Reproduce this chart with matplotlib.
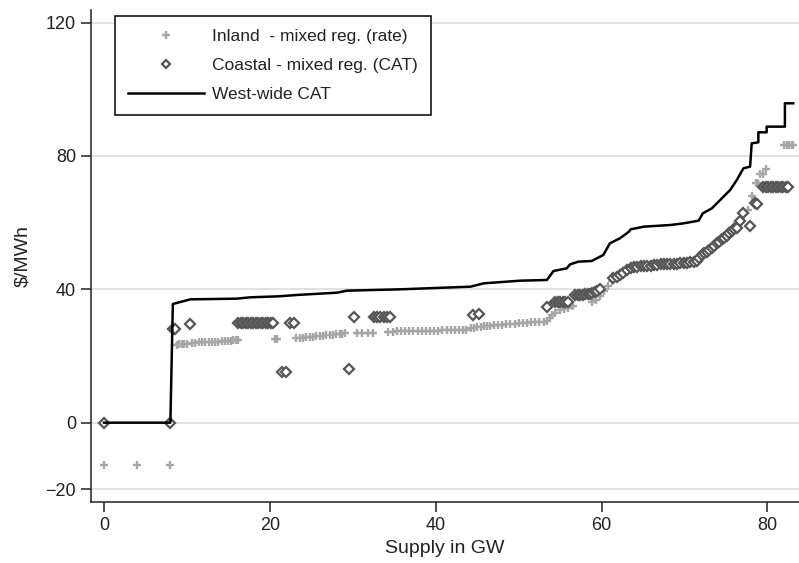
import matplotlib
matplotlib.use("Agg")
import matplotlib.pyplot as plt

plt.rcParams['font.family'] = ['Liberation Sans', 'DejaVu Sans']

# Inland - mixed reg. (rate): supply (GW), price ($/MWh)
inland_x = [0, 4, 8,
            8.8, 9.1, 9.4, 9.7, 10.0,
            10.6, 11.0, 11.4, 11.8, 12.2, 12.6, 13.0, 13.4, 13.8, 14.2, 14.6, 15.0, 15.3, 15.6, 15.9, 16.2,
            20.6, 20.9,
            23.2, 23.6, 24.0, 24.4, 24.8, 25.2, 25.6, 26.0, 26.4, 26.8, 27.2, 27.6, 28.0, 28.4, 28.7, 29.1,
            30.5, 31.1, 31.8, 32.4,
            34.3, 34.8, 35.3, 35.8, 36.3, 36.8, 37.3, 37.8, 38.3, 38.8, 39.3, 39.8, 40.3, 40.8, 41.3, 41.8,
            42.3, 42.8, 43.3, 43.7,
            44.2, 44.6, 45.0, 45.4, 45.8, 46.2, 46.6, 47.0, 47.5, 48.0, 48.5, 49.0, 49.5, 50.0, 50.5, 51.0,
            51.5, 52.0, 52.5, 53.0, 53.4, 53.8,
            54.0, 54.4, 55.0, 55.5, 56.0, 56.6, 58.9, 59.3, 59.8, 60.3, 60.8, 61.2,
            62.0, 63.0, 64.0, 65.0, 66.0, 67.0, 68.0, 69.0, 70.0, 71.0, 72.0, 73.0, 74.0,
            75.3, 75.8, 76.3, 76.8, 77.2, 77.6, 78.1, 78.6, 78.8, 79.1, 79.4, 79.8,
            82.0, 82.3, 82.6, 82.9, 83.1]
inland_y = [-12.7, -12.7, -12.7,
            23.4, 23.5, 23.6, 23.6, 23.7,
            24.0, 24.0, 24.1, 24.1, 24.2, 24.2, 24.3, 24.3, 24.3, 24.4, 24.5, 24.5, 24.6, 24.7, 24.8, 24.9,
            25.0, 25.1,
            25.3, 25.4, 25.5, 25.6, 25.7, 25.8, 25.9, 26.0, 26.1, 26.2, 26.3, 26.4, 26.5, 26.6, 26.7, 26.8,
            27.0, 27.0, 27.0, 27.0,
            27.3, 27.3, 27.4, 27.4, 27.4, 27.5, 27.5, 27.5, 27.5, 27.6, 27.6, 27.6, 27.6, 27.7, 27.7, 27.7,
            27.7, 27.8, 27.8, 27.9,
            28.3, 28.5, 28.6, 28.8, 28.9, 29.0, 29.1, 29.2, 29.3, 29.4, 29.5, 29.6, 29.7, 29.8, 29.9, 30.0,
            30.1, 30.2, 30.3, 30.3, 30.4, 31.4,
            32.3, 32.8, 33.8, 34.0, 34.3, 35.0, 36.2, 36.8, 38.0, 39.5, 41.0, 42.5,
            44.0, 45.5, 46.5, 47.0, 47.4, 47.6, 47.8, 48.0, 48.2, 48.6, 50.0, 52.0, 54.0,
            57.0, 58.5, 60.0, 61.5, 62.8, 63.7, 68.0, 71.8, 71.8, 74.6, 74.6, 76.1,
            83.3, 83.3, 83.3, 83.3, 83.3]

# Coastal - mixed reg. (CAT)
coastal_x = [0, 8, 8.3, 8.6, 10.4,
             16.2, 16.5, 16.8, 17.1, 17.4, 17.7, 18.0, 18.3, 18.6, 18.9, 19.2, 19.5, 19.8, 20.1, 20.4,
             22.4, 22.9, 21.5, 22.0, 29.5, 30.2,
             32.5, 32.9, 33.3, 33.7, 34.1, 34.5,
             44.5, 45.2, 53.4,
             54.4, 54.7, 55.0, 55.3, 55.6, 56.0,
             56.8, 57.1, 57.4, 57.7, 58.0, 58.3, 58.6, 58.9, 59.2, 59.5, 59.8,
             61.4, 61.8, 62.2, 62.6, 63.1, 63.5, 63.9, 64.3, 64.7, 65.1, 65.5, 65.9, 66.3,
             66.7, 67.1, 67.5, 67.9, 68.3, 68.7, 69.1, 69.5, 69.9, 70.3, 70.7, 71.1, 71.5, 71.8,
             72.1, 72.4, 72.7, 73.0, 73.3, 73.6, 73.9, 74.2, 74.5, 74.8, 75.1, 75.4, 75.7, 76.0,
             76.3, 76.7, 77.1, 77.9, 78.5, 78.7,
             79.5, 79.8, 80.1, 80.4, 80.7, 81.0, 81.3, 81.6, 81.9, 82.2, 82.5]
coastal_y = [0, 0, 28.1, 28.1, 29.5,
             30.0, 30.0, 30.0, 30.0, 30.0, 30.0, 30.0, 30.0, 30.0, 30.0, 30.0, 30.0, 30.0, 30.0, 30.0,
             29.8, 29.8, 15.3, 15.3, 16.0, 31.6,
             31.8, 31.8, 31.8, 31.8, 31.8, 31.8,
             32.3, 32.6, 34.6,
             36.3, 36.3, 36.3, 36.3, 36.3, 36.3,
             38.2, 38.3, 38.3, 38.4, 38.5, 38.6, 38.7, 38.9, 39.2, 39.5, 40.0,
             43.3, 43.8, 44.3, 45.0, 45.8, 46.3, 46.6, 46.8, 47.0, 47.0, 47.1, 47.1, 47.3,
             47.4, 47.5, 47.5, 47.6, 47.6, 47.7, 47.7, 47.8, 47.9, 48.0, 48.1, 48.3, 48.6, 49.3,
             50.3, 50.8, 51.3, 51.8, 52.3, 53.0, 53.8, 54.2, 55.0, 55.5, 56.0, 57.0, 57.5, 58.0,
             58.5, 60.5, 62.8, 59.0, 65.8, 65.6,
             70.6, 70.6, 70.6, 70.6, 70.6, 70.6, 70.6, 70.6, 70.6, 70.6, 70.6]

# West-wide CAT supply curve
west_x = [0, 8, 8.3, 10.4, 16, 17.6, 21, 23.2, 28.1, 29.3, 35.7, 44.2, 45.8, 50.2, 53.4,
          54.2, 55.8, 56.2, 57.2, 58.8, 60.2, 61.0, 62.2, 63.3, 63.5, 65.1, 68.3, 69.9, 71.7,
          72.2, 73.3, 74.3, 75.5, 76.3, 77.1, 77.9, 78.1, 78.9, 78.9, 79.9, 79.9, 82.1, 82.1, 83.1]
west_y = [0, 0, 35.6, 37.0, 37.2, 37.6, 37.9, 38.3, 39.0, 39.6, 40.0, 40.8, 41.8, 42.6, 42.8,
          45.5, 46.3, 47.5, 48.3, 48.5, 50.3, 53.8, 55.3, 57.3, 58.0, 58.8, 59.3, 59.8, 60.6,
          62.8, 64.3, 66.8, 69.8, 72.8, 76.3, 76.8, 83.8, 84.1, 87.1, 87.1, 88.8, 88.8, 95.8, 95.8]

yticks = [-20, 0, 40, 80, 120]
xticks = [0, 20, 40, 60, 80]

fig = plt.figure(figsize=(7.99, 5.63), dpi=100)
ax = fig.add_axes([0.1143, 0.1083, 0.8857, 0.8740])

txt = '#222222'

ax.plot(inland_x, inland_y, linestyle='none', marker='+', markersize=6, markeredgewidth=1.7,
        color='#a6a6a6', label='Inland  - mixed reg. (rate)', zorder=3)
ax.plot(coastal_x, coastal_y, linestyle='none', marker='D', markersize=5, markeredgewidth=1.6,
        markerfacecolor='white', markeredgecolor='#555555', label='Coastal - mixed reg. (CAT)', zorder=4)
ax.plot(west_x, west_y, color='black', linewidth=1.8, label='West-wide CAT', zorder=5)

ax.set_xlim(-1.53, 83.8)
ax.set_ylim(-23.8, 123.8)
ax.set_xticks(xticks)
ax.set_yticks(yticks)
ax.set_yticklabels(['\u221220', '0', '40', '80', '120'])
ax.grid(axis='y', color='#d9d9d9', linewidth=1.1)
ax.set_axisbelow(True)

for s in ['top', 'right']:
    ax.spines[s].set_visible(False)
for s in ['left', 'bottom']:
    ax.spines[s].set_linewidth(1.1)
    ax.spines[s].set_color(txt)

ax.tick_params(axis='both', direction='out', length=7, width=1.1, color=txt,
               labelsize=13, labelcolor=txt, pad=4)

ax.set_xlabel('Supply in GW', fontsize=14, color=txt, labelpad=4)
ax.set_ylabel('$/MWh', fontsize=14, color=txt, labelpad=10)

leg = ax.legend(loc='upper left', bbox_to_anchor=(0.0335, 0.988), borderaxespad=0,
                fontsize=12.5, handlelength=4.4, handletextpad=0.45, labelspacing=0.8,
                borderpad=0.75, fancybox=False, framealpha=1, edgecolor='black',
                markerscale=0.9)
leg.get_frame().set_linewidth(1.1)
for t in leg.get_texts():
    t.set_color(txt)

fig.savefig('out.png', dpi=100)
